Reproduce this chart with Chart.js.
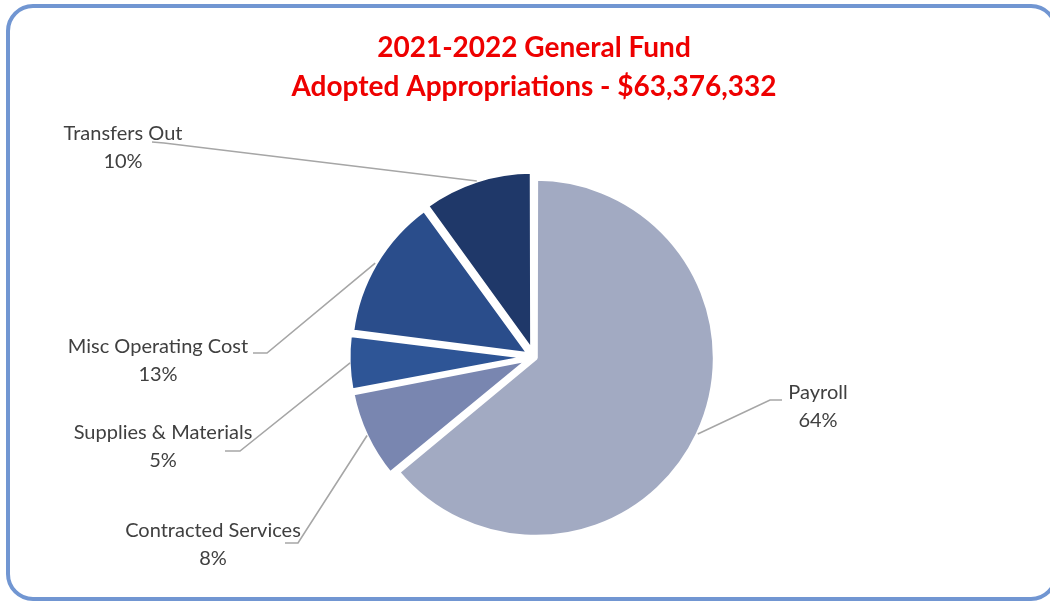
<!DOCTYPE html>
<html>
<head>
<meta charset="utf-8">
<script src="https://cdn.jsdelivr.net/npm/chart.js@4.4.1/dist/chart.umd.min.js"></script>
<style>
  html, body { margin: 0; padding: 0; background: #ffffff; width: 1050px; height: 602px; overflow: hidden; }
  #frame {
    position: absolute; left: 6px; top: 4px; width: 1052px; height: 597px;
    box-sizing: border-box; border: 4px solid #7196d2; border-radius: 27px;
  }
  #wrap { position: absolute; left: 0; top: 0; width: 1050px; height: 602px; }
</style>
</head>
<body>
<div id="frame"></div>
<div id="wrap"><canvas id="c" width="1050" height="602"></canvas></div>
<script>
// Budget categories, in drawing order (clockwise from 12 o'clock)
const categories = ['Payroll', 'Contracted Services', 'Supplies & Materials', 'Misc Operating Cost', 'Transfers Out'];
// Share of the adopted appropriations, percent
const shares = [64, 8, 5, 13, 10];
const sliceColors = ['#a2aac2', '#7986b0', '#2e5596', '#2a4d8b', '#1f3869'];
const titleLines = ['2021-2022 General Fund', 'Adopted Appropriations - $63,376,332'];

// Where each callout's text sits and where its leader line bends
const calloutLayout = [
  { tx: 818, ty: 393, bend: [[782, 400], [770, 400]] },
  { tx: 213, ty: 531, bend: [[285, 543], [298, 543]] },
  { tx: 163, ty: 433, bend: [[225, 451], [240, 451]] },
  { tx: 158, ty: 347, bend: [[253, 353], [267, 353]] },
  { tx: 123, ty: 134, bend: [[152, 142], [164, 143]] }
];

const LABEL_FONT = '20px Lato, "Open Sans", sans-serif';
const TITLE_FONT = 'bold 28px Lato, "Open Sans", sans-serif';

const titlePlugin = {
  id: 'fundTitle',
  afterDraw(chart) {
    const ctx = chart.ctx;
    ctx.save();
    ctx.font = TITLE_FONT;
    ctx.fillStyle = '#ee0000';
    ctx.textAlign = 'center';
    ctx.textBaseline = 'middle';
    ctx.fillText(titleLines[0], 534, 48);
    ctx.fillText(titleLines[1], 534, 87);
    ctx.restore();
  }
};

const calloutPlugin = {
  id: 'callouts',
  afterDatasetsDraw(chart) {
    const ctx = chart.ctx;
    const meta = chart.getDatasetMeta(0);
    ctx.save();
    meta.data.forEach((arc, i) => {
      const p = arc.getProps(['x', 'y', 'startAngle', 'endAngle', 'outerRadius'], true);
      const mid = (p.startAngle + p.endAngle) / 2;
      const shift = (arc.options.offset || 0) / 4;
      const r = p.outerRadius + shift + 2;
      const ex = p.x + Math.cos(mid) * r;
      const ey = p.y + Math.sin(mid) * r;
      const L = calloutLayout[i];
      ctx.strokeStyle = '#a6a6a6';
      ctx.lineWidth = 1.6;
      ctx.beginPath();
      ctx.moveTo(L.bend[0][0], L.bend[0][1]);
      ctx.lineTo(L.bend[1][0], L.bend[1][1]);
      ctx.lineTo(ex, ey);
      ctx.stroke();

      ctx.font = LABEL_FONT;
      ctx.fillStyle = '#404040';
      ctx.textAlign = 'center';
      ctx.textBaseline = 'middle';
      ctx.fillText(categories[i], L.tx, L.ty);
      ctx.fillText(shares[i] + '%', L.tx, L.ty + 28);
    });
    ctx.restore();
  }
};

new Chart(document.getElementById('c'), {
  type: 'pie',
  data: {
    labels: categories,
    datasets: [{
      data: shares,
      backgroundColor: sliceColors,
      borderColor: '#ffffff',
      borderWidth: 4,
      borderJoinStyle: 'bevel',
      offset: [8, 22, 20, 22, 24]
    }]
  },
  options: {
    responsive: false,
    animation: false,
    radius: 177,
    layout: { padding: { left: 42, right: 24, top: 142, bottom: 30 } },
    plugins: {
      legend: { display: false },
      tooltip: { enabled: false },
      title: { display: false }
    }
  },
  plugins: [titlePlugin, calloutPlugin]
});
</script>
</body>
</html>
